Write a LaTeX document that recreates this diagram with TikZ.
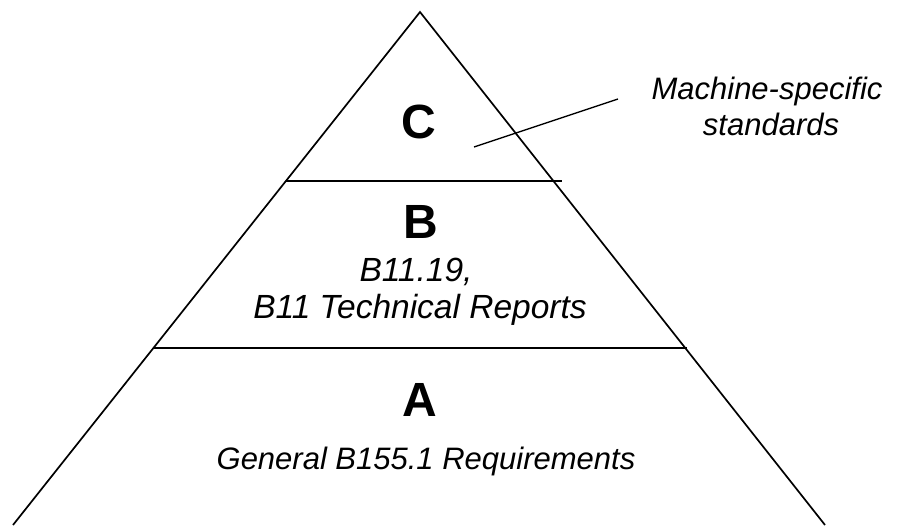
\documentclass[tikz,border=0pt]{standalone}
\usepackage{fontspec}
\setmainfont{Liberation Sans}
\begin{document}
\begin{tikzpicture}[x=1pt,y=-1pt,
  edge/.style={line width=1.7pt,black},
  tier/.style={font=\fontsize{48}{54}\selectfont\bfseries,inner sep=0pt},
  desc/.style={font=\fontsize{31}{36}\selectfont\itshape,inner sep=0pt,align=center}]
\useasboundingbox (0,0) rectangle (909,525);
\clip (0,0) rectangle (909,525);
\coordinate (apex) at (420,12);
\coordinate (bl) at (13,525);
\coordinate (br) at (825,525);
\coordinate (cbL) at (286,181);
\coordinate (cbR) at (562,181);
\coordinate (baL) at (154,348);
\coordinate (baR) at (687,348);
\coordinate (ptrA) at (474,147);
\coordinate (ptrB) at (618,99);
\draw[edge] (bl) -- (apex) -- (br);
\draw[edge] (cbL) -- (cbR);
\draw[edge] (baL) -- (baR);
\draw[edge,line width=1.4pt] (ptrA) -- (ptrB);
\node[tier] (C) at (419,122) {C};
\node[tier] (B) at (421,222) {B};
\node[tier] (A) at (420,400) {A};
\node[desc] (cdesc) at (767,106) {Machine-specific\\\hspace*{8pt}standards};
\node[desc,font=\fontsize{33.5}{37}\selectfont\itshape] (bdesc) at (420,292) {B11.19,\hspace*{8pt}\\B11 Technical Reports};
\node[desc] (adesc) at (426,461) {General B155.1 Requirements};
\end{tikzpicture}
\end{document}
